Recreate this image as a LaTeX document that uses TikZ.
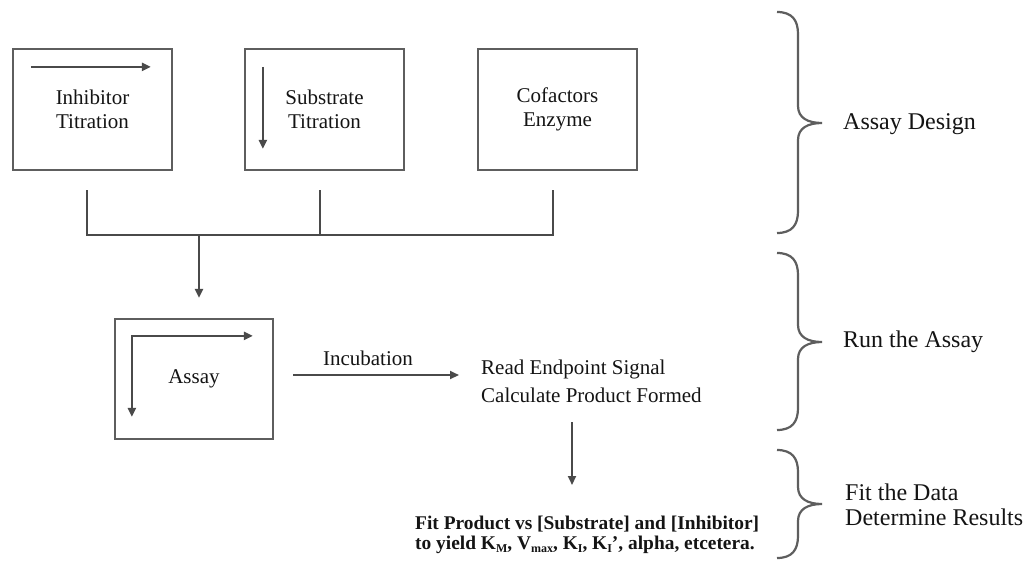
\documentclass[tikz,border=0pt]{standalone}
\usepackage{fontspec}
\setmainfont{Liberation Serif}
\usetikzlibrary{arrows.meta,calc}
\definecolor{ln}{HTML}{4A4A4A}
\definecolor{bx}{HTML}{5E5E5E}
\definecolor{tx}{HTML}{141414}
\newcommand\bracepath[3]{%
 \draw[brace] (777,#1) .. controls (792,#1) and (798,#1+8) .. (798,#1+22) -- (798,#2-17)
   .. controls (798,#2-5) and (808,#2) .. (822,#2)
   .. controls (808,#2) and (798,#2+5) .. (798,#2+17) -- (798,#3-22)
   .. controls (798,#3-8) and (792,#3) .. (777,#3);}
\begin{document}
\begin{tikzpicture}[x=1pt,y=-1pt,
  box/.style={draw=bx, line width=2.2pt, minimum width=159pt, minimum height=121pt, inner sep=0pt, align=center, font=\fontsize{21}{24}\selectfont, text=tx},
  conn/.style={draw=ln, line width=2pt},
  arr/.style={conn, -{Triangle[length=9pt,width=8pt]}},
  inarr/.style={draw=ln, line width=2.2pt, -{Triangle[length=9pt,width=8pt]}},
  inarrtwo/.style={draw=ln, line width=2.2pt, {Triangle[length=9pt,width=8pt]}-{Triangle[length=9pt,width=8pt]}},
  lbl/.style={font=\fontsize{21}{28}\selectfont, text=tx, inner sep=0pt, align=left},
  side/.style={font=\fontsize{24}{25}\selectfont, text=tx, inner sep=0pt, align=left, anchor=west},
  brace/.style={draw=bx, line width=2.2pt}]
\useasboundingbox (0,0) rectangle (1032,560);
\fill[white] (0,0) rectangle (1032,560);

% top boxes
\node[box] (inh) at (92.5,109.5) {Inhibitor\\Titration};
\node[box] (sub) at (324.5,109.5) {Substrate\\Titration};
\node[box] (cof) at (557.5,109.5) {Cofactors\\Enzyme};
\draw[inarr] ($(inh.north west)+(19,19)$) -- ($(inh.north west)+(139,19)$);
\draw[inarr] ($(sub.north west)+(19,19)$) -- ($(sub.north west)+(19,101)$);

% merge connector
\coordinate (j1) at (87,235);
\coordinate (j3) at (553,235);
\coordinate (jm) at (199,235);
\draw[conn] ($(inh.south)+(-5.5,19)$) -- (j1) -- (j3) -- ($(cof.south)+(-4.5,19)$);
\draw[conn] ($(sub.south)+(-4.5,19)$) -- ($(sub.south)+(-4.5,65)$);

% assay box
\node[box, minimum width=158pt, minimum height=120pt] (assay) at (194,379) {\raisebox{-3pt}{Assay}};
\draw[arr] (jm) -- ($(assay.north)+(5,-20)$);
\draw[inarrtwo] ($(assay.north west)+(18,99)$) -- ($(assay.north west)+(18,18)$) -- ($(assay.north west)+(139,18)$);

% incubation
\node[lbl, anchor=west] (read) at (481,381) {Read Endpoint Signal\\Calculate Product Formed};
\node[lbl] (inc) at (368,358) {Incubation};
\draw[arr] ($(assay.east)+(19,-4)$) -- ($(read.west)+(-22,-6)$);

% fit
\node[lbl, font=\bfseries\fontsize{19.4}{20}\selectfont, anchor=west] (fit) at (415,535)
  {Fit Product vs [Substrate] and [Inhibitor]\\to yield K{\fontsize{12}{12}\selectfont\raisebox{-3pt}{M}}, V{\fontsize{12}{12}\selectfont\raisebox{-3pt}{max}}, K{\fontsize{12}{12}\selectfont\raisebox{-3pt}{I}}, K{\fontsize{12}{12}\selectfont\raisebox{-3pt}{I}}’, alpha, etcetera.};
\draw[arr] ($(read.west)+(91,41)$) -- ($(fit.west)+(157,-50)$);

% braces and stage labels
\bracepath{12}{123}{233}
\bracepath{253}{342}{430}
\bracepath{450}{504}{558}
\node[side] (ad) at (843,124) {Assay Design};
\node[side] (ra) at (843,342) {Run the Assay};
\node[side] (fd) at (845,505) {Fit the Data\\Determine Results};
\end{tikzpicture}
\end{document}
